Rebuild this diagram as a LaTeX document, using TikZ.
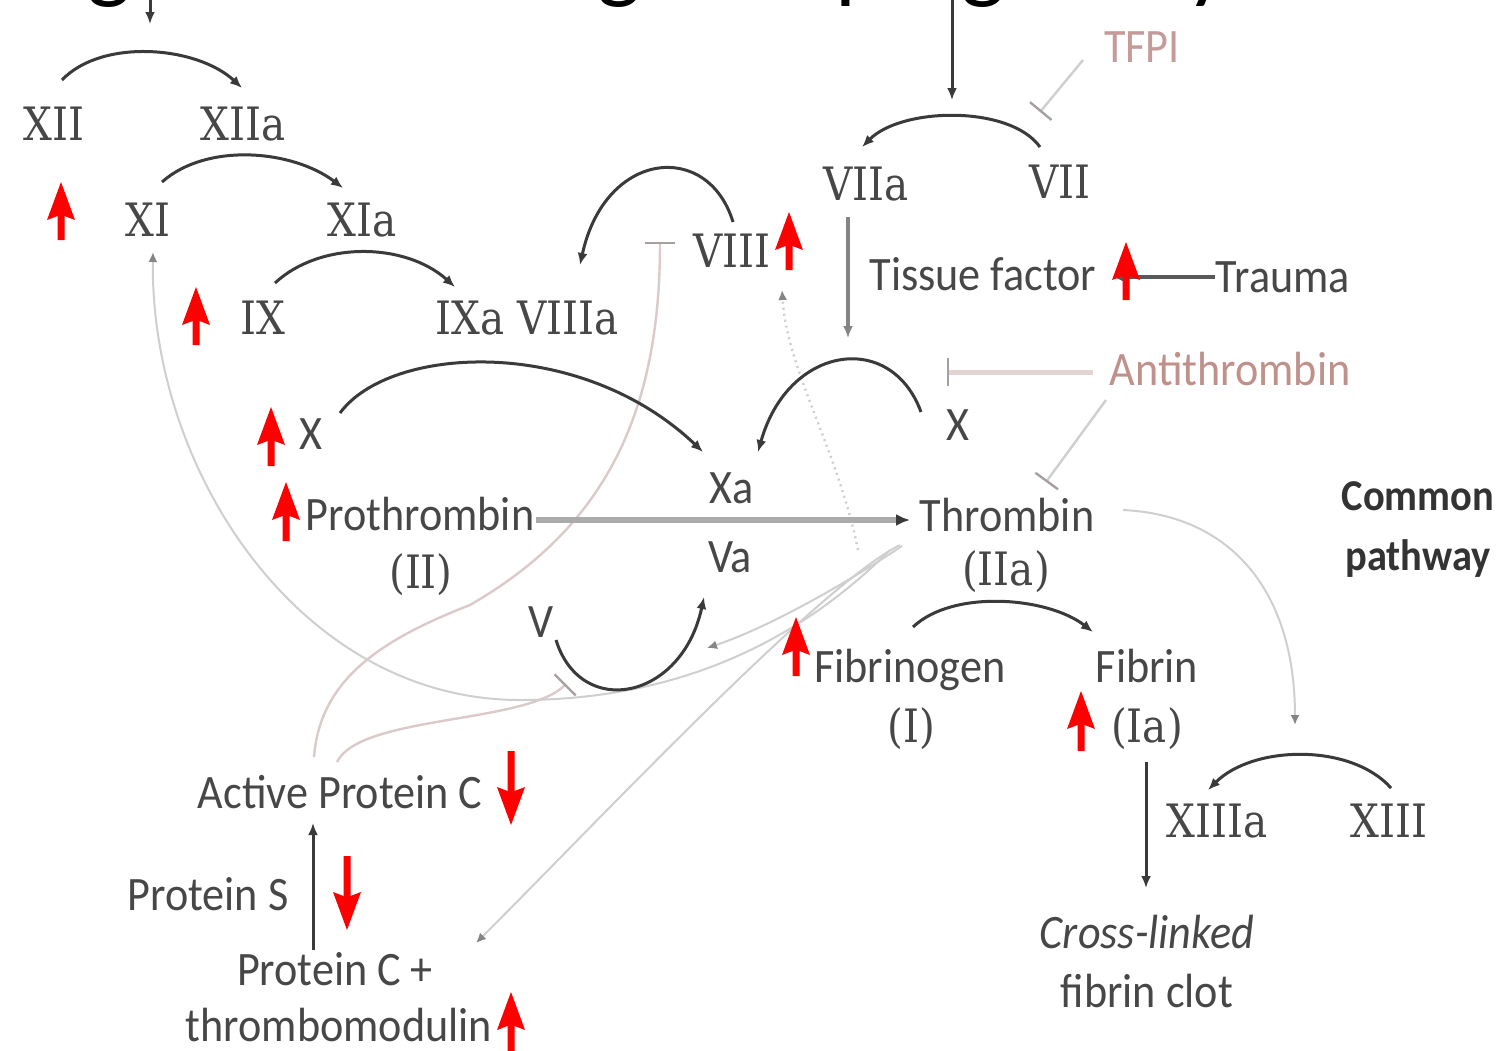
\documentclass[tikz,border=0pt]{standalone}
\usepackage{fontspec}
\setmainfont{Carlito}[FakeStretch=0.92]
\newfontfamily\rnfont{DejaVu Serif}[FakeStretch=0.88]
\newfontfamily\titlefont{Carlito}
\usetikzlibrary{arrows.meta}

\definecolor{ink}{HTML}{474747}
\definecolor{wire}{HTML}{3A3A3A}
\definecolor{faintc}{HTML}{CFCFCF}
\definecolor{pinkc}{HTML}{DCC9C9}
\definecolor{barc}{HTML}{A8A0A0}
\definecolor{tfpic}{HTML}{C49A9A}
\definecolor{atc}{HTML}{C0908A}
\definecolor{protc}{HTML}{ABABAB}
\definecolor{midgray}{HTML}{858585}

% red annotation arrow: x, tip y, tail y
\newcommand\redarrow[3]{%
  \pgfmathsetmacro\ardir{ifthenelse(#3>#2,1,-1)}%
  \fill[red] (#1,#2) -- ({#1+14},{#2+38*\ardir}) -- ({#1+3.5},{#2+34*\ardir})
    -- ({#1+3.5},#3) -- ({#1-3.5},#3) -- ({#1-3.5},{#2+34*\ardir})
    -- ({#1-14},{#2+38*\ardir}) -- cycle;}

\tikzset{
  lbl/.style={anchor=base, inner sep=0pt, text=ink, font=\fontsize{24}{28}\selectfont},
  rn/.style={anchor=base, inner sep=0pt, text=ink, font=\rnfont\fontsize{23}{28}\selectfont},
  conv/.style={draw=wire, line width=1.5pt, -{Latex[length=6pt,width=5pt]}},
  faint/.style={draw=faintc, line width=1pt, -{Latex[length=5pt,width=4.5pt,color=midgray]}},
  pinkinh/.style={draw=pinkc, line width=1.2pt, -{Bar[width=15pt,line width=1.2pt,color=barc]}},
  greyinh/.style={draw=faintc, line width=1.2pt, -{Bar[width=14pt,line width=1.2pt,color=barc]}},
}

\begin{document}
\begin{tikzpicture}[x=0.5pt,y=-0.5pt]
\useasboundingbox (0,0) rectangle (1504,1050);
\fill[white] (0,0) rectangle (1504,1050);

% heading, cut by the top edge
\begin{scope}
  \clip (0,0) rectangle (1504,1050);
  \node[anchor=base west, inner sep=0pt, text=black,
        font=\titlefont\fontsize{46.5}{50}\selectfont] (title) at (-56,-9)
        {Coagulation changes in pregnancy};
\end{scope}

% ---- factors ----
\node[rn] (xii)    at (54,140)   {XII};
\node[rn] (xiia)   at (243,140)  {XIIa};
\node[rn] (xi)     at (148,236)  {XI};
\node[rn] (xia)    at (362,236)  {XIa};
\node[rn] (ix)     at (263,334)  {IX};
\node[rn] (ixviii) at (527,334)  {IXa VIIIa};
\node[rn] (viii)   at (732,267)  {VIII};
\node[rn] (viia)   at (866,200)  {VIIa};
\node[rn] (vii)    at (1060,198) {VII};
\node[lbl, text=tfpic] (tfpi) at (1142,62) {TFPI};
\node[lbl] (tf)     at (983,290)  {Tissue factor};
\node[lbl] (trauma) at (1283,292) {Trauma};
\node[lbl, text=atc] (at) at (1230,385) {Antithrombin};
\node[lbl] (xr)     at (958,440)  {X};
\node[lbl] (xl)     at (311,449)  {X};
\node[lbl] (xa)     at (732,503)  {Xa};
\node[lbl] (va)     at (730,572)  {Va};
\node[lbl] (v)      at (541,637)  {V};
\node[lbl] (pro)    at (420,530)  {Prothrombin};
\node[rn]  (proii)  at (421,588)  {(II)};
\node[lbl] (thr)    at (1007,531) {Thrombin};
\node[rn]  (thrii)  at (1006,585) {(IIa)};
\node[lbl, text=black!80, font=\fontsize{22}{26}\selectfont\bfseries] (cp1) at (1418,510) {Common};
\node[lbl, text=black!80, font=\fontsize{22}{26}\selectfont\bfseries] (cp2) at (1418,570) {pathway};
\node[lbl] (fbg)    at (910,682)  {Fibrinogen};
\node[rn]  (fbgi)   at (911,742)  {(I)};
\node[lbl] (fbn)    at (1147,682) {Fibrin};
\node[rn]  (fbni)   at (1147,742) {(Ia)};
\node[rn]  (xiiia)  at (1217,837) {XIIIa};
\node[rn]  (xiii)   at (1389,837) {XIII};
\node[lbl, font=\fontsize{24}{28}\selectfont\itshape] (clot1) at (1147,948) {Cross-linked};
\node[lbl] (clot2)  at (1147,1007) {fibrin clot};
\node[lbl] (apc)    at (340,808)  {Active Protein C};
\node[lbl] (ps)     at (208,910)  {Protein S};
\node[lbl] (pc1)    at (335,985)  {Protein C +};
\node[lbl] (pc2)    at (339,1041) {thrombomodulin};

% ---- faint feedback loops (drawn first, underneath) ----
\coordinate (fxiii) at (1295,725);
\draw[faint] ([shift={(116,-21)}]thr.base) .. controls +(107,5) and +(0,-135) .. (fxiii);
\draw[faint, dotted, line width=1.2pt] ([shift={(-149,19)}]thr.base) .. controls +(-20,-100) and +(5,80) .. ([shift={(50,23)}]viii.base);
\coordinate (fv) at (707,648);
\draw[faint] ([shift={(-105,15)}]thr.base) .. controls +(-60,40) and +(60,-20) .. (fv);
\draw[faint] ([shift={(-107,14)}]thr.base) .. controls +(-80,40) and +(130,-130) .. ([shift={(141,-42)}]pc1.base);
\draw[faint] ([shift={(-117,19)}]thr.base) .. controls (800,640) and (680,700) .. (520,700)
      .. controls (300,700) and (150,470) .. ([shift={(5,16)}]xi.base);

% protein C inhibition
\coordinate (apcviii) at (660,242);
\draw[pinkinh] ([shift={(-26,-51)}]apc.base) .. controls +(6,-77) and +(-90,35) .. (470,605)
      .. controls (600,530) and (660,420) .. (apcviii);
\coordinate (apcv) at (566,684);
\draw[pinkinh] ([shift={(-3,-46)}]apc.base) .. controls +(23,-47) and +(-40,40) .. (apcv);

% ---- intrinsic pathway ----
\coordinate (inA) at (150,-8);
\coordinate (inB) at (150,24);
\draw[conv] (inA) -- (inB);
\draw[conv] ([shift={(8,-60)}]xii.base) .. controls +(40,-42) and +(-45,-42) .. ([shift={(-1,-52)}]xiia.base);
\draw[conv] ([shift={(14,-54)}]xi.base) .. controls +(45,-40) and +(-50,-38) .. ([shift={(-19,-48)}]xia.base);
\draw[conv] ([shift={(12,-51)}]ix.base) .. controls +(45,-42) and +(-50,-45) .. ([shift={(-72,-47)}]ixviii.base);
\draw[conv] ([shift={(1,-45)}]viii.base) .. controls +(-25,-82) and +(25,-115) .. ([shift={(53,-69)}]ixviii.base);

% ---- extrinsic pathway ----
\coordinate (exA) at (952,-8);
\coordinate (exB) at (952,100);
\draw[conv] (exA) -- (exB);
\draw[conv] ([shift={(-20,-51)}]vii.base) .. controls +(-30,-42) and +(40,-40) .. ([shift={(-4,-53)}]viia.base);
\coordinate (tfpiT) at (1040,112);
\draw[greyinh] ([shift={(-59,-2)}]tfpi.base) -- (tfpiT);
\coordinate (viiaT) at (848,338);
\draw[conv, draw=midgray, line width=2.2pt] ([shift={(-18,17)}]viia.base) -- (viiaT);
\draw[conv, draw=black!65, line width=2pt] ([shift={(-68,-15)}]trauma.base) -- ([shift={(129,-13)}]tf.base);

% ---- common pathway ----
\draw[conv] ([shift={(29,-36)}]xl.base) .. controls +(50,-68) and +(-123,-117) .. ([shift={(-29,-51)}]xa.base);
\draw[conv] ([shift={(-37,-28)}]xr.base) .. controls +(-30,-82) and +(30,-107) .. ([shift={(26,-51)}]xa.base);
\coordinate (atX) at (947,372);
\draw[draw=pinkc!80, line width=2.5pt, -{Bar[width=14pt,line width=1.2pt,color=barc]}] ([shift={(-137,-13)}]at.base) -- (atX);
\draw[greyinh] ([shift={(-124,15)}]at.base) -- ([shift={(39,-49)}]thr.base);
\draw[draw=protc, line width=3pt, -{Latex[length=7pt,width=6pt,color=wire]}] ([shift={(116,-10)}]pro.base) -- ([shift={(-97,-11)}]thr.base);
\draw[conv] ([shift={(15,3)}]v.base) .. controls +(25,80) and +(-22,103) .. ([shift={(-26,25)}]va.base);
\draw[conv] ([shift={(3,-55)}]fbg.base) .. controls +(40,-38) and +(-45,-35) .. ([shift={(-54,-50)}]fbn.base);
\draw[conv] ([shift={(-1,20)}]fbni.base) -- ([shift={(-1,-60)}]clot1.base);
\draw[conv] ([shift={(2,-49)}]xiii.base) .. controls +(-40,-45) and +(45,-45) .. ([shift={(-9,-47)}]xiiia.base);
\draw[conv] ([shift={(-22,-35)}]pc1.base) -- ([shift={(-27,15)}]apc.base);

% ---- red markers ----
\redarrow{61}{182}{240}
\redarrow{196}{287}{345}
\redarrow{789}{212}{270}
\redarrow{1126}{242}{300}
\redarrow{271}{407}{466}
\redarrow{286}{482}{541}
\redarrow{796}{617}{676}
\redarrow{1081}{691}{751}
\redarrow{511}{825}{751}
\redarrow{347}{930}{856}
\redarrow{511}{992}{1060}
\end{tikzpicture}
\end{document}
